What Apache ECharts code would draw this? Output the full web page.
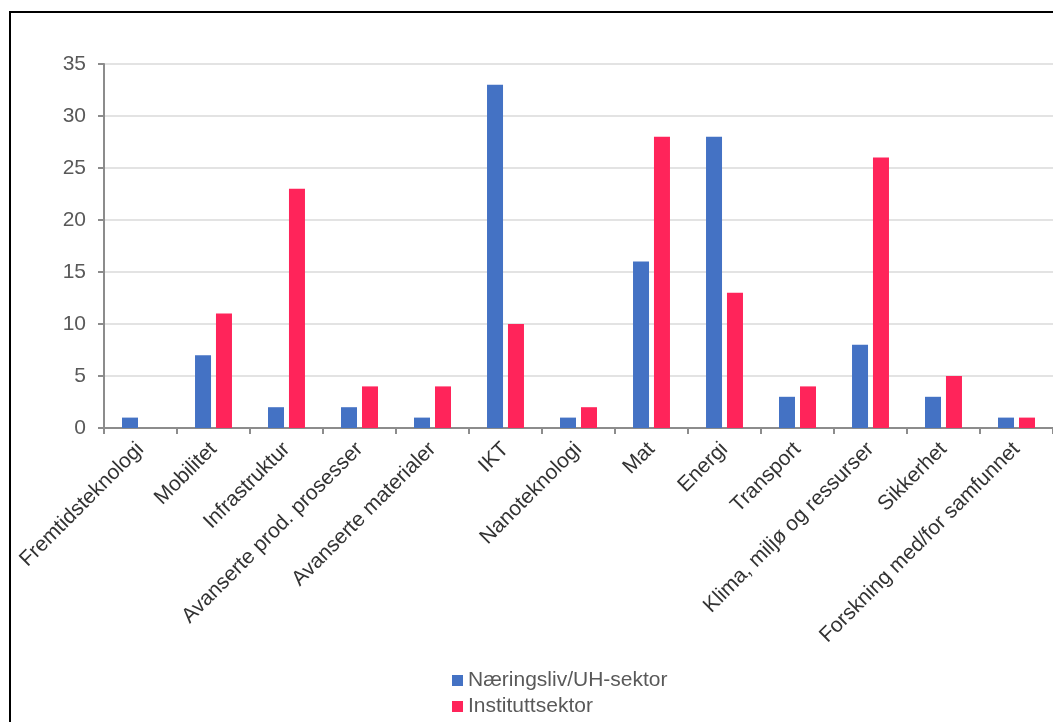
<!DOCTYPE html>
<html>
<head>
<meta charset="utf-8">
<script src="https://cdn.jsdelivr.net/npm/echarts@6/dist/echarts.min.js"></script>
<style>
  html, body { margin: 0; padding: 0; background: #fff; }
  #chart { width: 1053px; height: 722px; }
</style>
</head>
<body>
<div id="chart"></div>
<script>
// Research areas and counts per sector
const categories = [
  'Fremtidsteknologi', 'Mobilitet', 'Infrastruktur', 'Avanserte prod. prosesser',
  'Avanserte materialer', 'IKT', 'Nanoteknologi', 'Mat', 'Energi', 'Transport',
  'Klima, miljø og ressurser', 'Sikkerhet', 'Forskning med/for samfunnet'
];
const seriesNames = ['Næringsliv/UH-sektor', 'Instituttsektor'];
const naeringslivUH = [1, 7, 2, 2, 1, 33, 1, 16, 28, 3, 8, 3, 1];
const instituttsektor = [0, 11, 23, 4, 4, 10, 2, 28, 13, 4, 26, 5, 1];

const FONT = '"Liberation Sans", Arial, sans-serif';
const TEXT = '#595959';
const AXIS = '#8c8c8c';

const chart = echarts.init(document.getElementById('chart'), null, { renderer: 'canvas' });

chart.setOption({
  animation: false,
  backgroundColor: '#ffffff',
  textStyle: { fontFamily: FONT },
  graphic: [{
    type: 'rect',
    shape: { x: 10, y: 12, width: 1100, height: 760 },
    style: { fill: 'none', stroke: '#000', lineWidth: 2 },
    silent: true,
    z: 100
  }],
  grid: { left: 104, top: 64, width: 962, height: 364, containLabel: false },
  legend: {
    orient: 'vertical',
    left: 452,
    top: 670,
    padding: 0,
    itemWidth: 11,
    itemHeight: 11,
    itemGap: 5,
    icon: 'rect',
    data: seriesNames,
    itemStyle: { borderWidth: 0 },
    textStyle: { fontFamily: FONT, fontSize: 21, color: TEXT, padding: [0, 0, 0, 0] }
  },
  xAxis: {
    type: 'category',
    data: categories,
    boundaryGap: true,
    axisLine: { show: true, lineStyle: { color: AXIS, width: 2 } },
    axisTick: { show: true, alignWithLabel: false, length: 6, lineStyle: { color: AXIS, width: 2 } },
    axisLabel: {
      interval: 0,
      rotate: 45,
      margin: 18,
      fontFamily: FONT,
      fontSize: 21,
      color: '#333'
    },
    splitLine: { show: false }
  },
  yAxis: {
    type: 'value',
    min: 0,
    max: 35,
    interval: 5,
    axisLine: { show: true, lineStyle: { color: AXIS, width: 2 } },
    axisTick: { show: true, length: 6, lineStyle: { color: AXIS, width: 2 } },
    axisLabel: { margin: 18, fontFamily: FONT, fontSize: 21, color: TEXT },
    splitLine: { show: true, lineStyle: { color: '#e3e3e3', width: 2 } }
  },
  series: [
    {
      name: seriesNames[0],
      type: 'bar',
      data: naeringslivUH,
      barWidth: 16,
      barGap: '31%',
      itemStyle: { color: '#4472C4' }
    },
    {
      name: seriesNames[1],
      type: 'bar',
      data: instituttsektor,
      barWidth: 16,
      itemStyle: { color: '#FF245A' }
    }
  ]
});
</script>
</body>
</html>
